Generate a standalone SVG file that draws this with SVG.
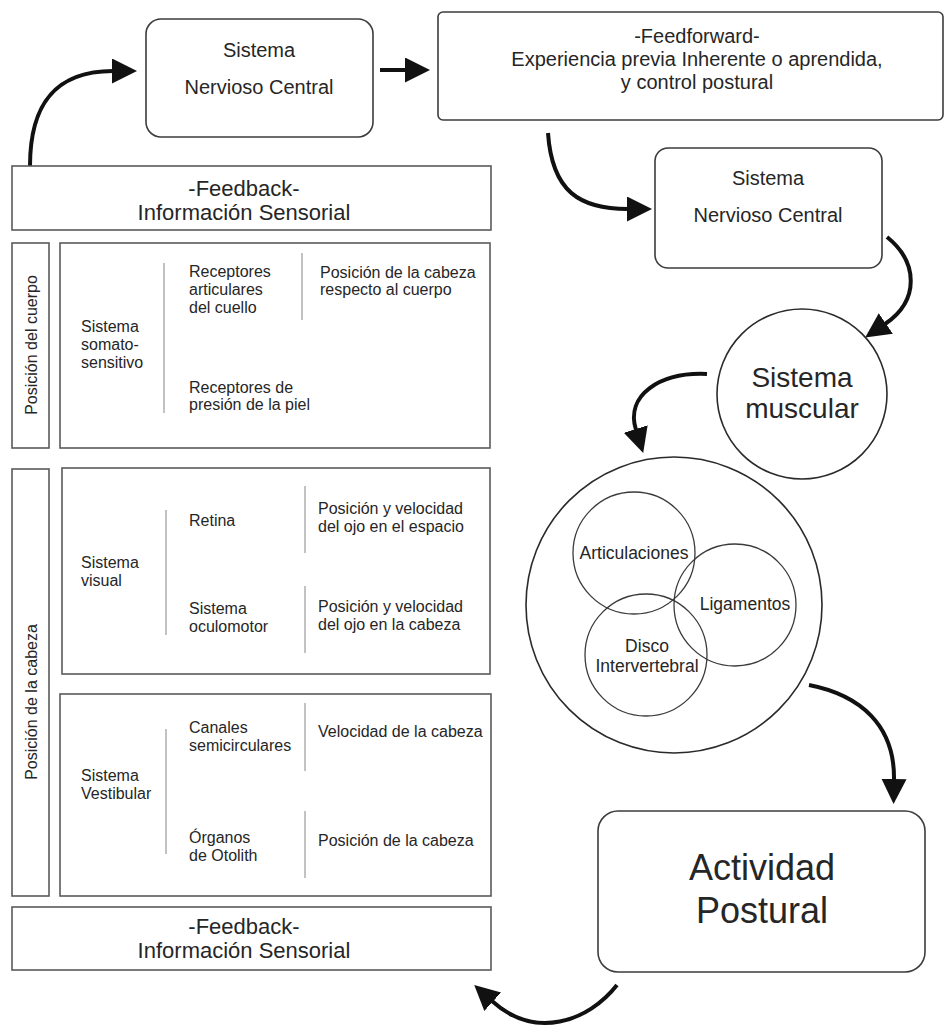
<svg xmlns="http://www.w3.org/2000/svg" width="945" height="1026" viewBox="0 0 945 1026">
  <style>
    text { font-family: "Liberation Sans", Arial, Helvetica, sans-serif; fill: #262626; }
    .box { fill: #fff; stroke: #3c3c3c; stroke-width: 1.6; }
    .panel { fill: #fff; stroke: #5a5a5a; stroke-width: 1.6; }
    .div { stroke: #a8a8a8; stroke-width: 1.4; }
    .ring { fill: none; stroke: #2a2a2a; stroke-width: 1.6; }
    .ring-in { fill: none; stroke: #3a3a3a; stroke-width: 1.3; }
    .arrow { fill: none; stroke: #111; stroke-width: 4; marker-end: url(#head); }
    .t16 { font-size: 16px; }
    .t20 { font-size: 20px; text-anchor: middle; }
    .t22 { font-size: 22px; text-anchor: middle; }
    .mid { text-anchor: middle; }
  </style>
  <defs>
    <marker id="head" markerUnits="userSpaceOnUse" markerWidth="26" markerHeight="26" refX="1" refY="12.5" orient="auto">
      <path d="M0,0 L25,12.5 L0,25 Z" fill="#111"/>
    </marker>
  </defs>

  <rect width="945" height="1026" fill="#fff"/>

  <!-- connectors -->
  <g id="connectors">
    <path class="arrow" d="M30,166 C30,108 52,71 113,71"/>
    <path class="arrow" d="M380,70 L406,70"/>
    <path class="arrow" d="M548,133 C552,192 580,209 628,209"/>
    <path class="arrow" d="M887,237 C918,262 920,300 885,324"/>
    <path class="arrow" d="M707,374 C660,372 625,395 636,430"/>
    <path class="arrow" d="M809,685 C860,695 895,725 894,780"/>
    <path class="arrow" d="M617,985 C588,1022 535,1040 492,1001"/>
  </g>

  <!-- central nervous system (input side) -->
  <g id="snc-1">
    <rect class="box" x="146" y="19" width="227" height="118" rx="15"/>
    <text class="t20" x="259" y="57">Sistema</text>
    <text class="t20" x="259" y="94">Nervioso Central</text>
  </g>

  <!-- feedforward -->
  <g id="feedforward">
    <rect class="box" x="438" y="12" width="505" height="108" rx="5"/>
    <text class="t20" x="697" y="43">-Feedforward-</text>
    <text class="t20" x="697" y="66">Experiencia previa Inherente o aprendida,</text>
    <text class="t20" x="697" y="89">y control postural</text>
  </g>

  <!-- feedback (top) -->
  <g id="feedback-top">
    <rect class="panel" x="12" y="166" width="479" height="64"/>
    <text class="t22" x="244" y="196">-Feedback-</text>
    <text class="t22" x="244" y="220">Información Sensorial</text>
  </g>

  <!-- central nervous system (output side) -->
  <g id="snc-2">
    <rect class="box" x="655" y="148" width="227" height="120" rx="13"/>
    <text class="t20" x="768" y="185">Sistema</text>
    <text class="t20" x="768" y="222">Nervioso Central</text>
  </g>

  <!-- body position: somatosensory -->
  <g id="posicion-cuerpo">
    <rect class="panel" x="12" y="243" width="37" height="205"/>
    <text class="t16 mid" transform="translate(37,345) rotate(-90)">Posición del cuerpo</text>
  </g>
  <g id="somatosensitivo">
    <rect class="panel" x="60" y="243" width="430" height="205"/>
    <line class="div" x1="164" y1="263" x2="164" y2="413"/>
    <line class="div" x1="302" y1="253" x2="302" y2="320"/>
    <text class="t16" x="81" y="332">Sistema</text>
    <text class="t16" x="81" y="350">somato-</text>
    <text class="t16" x="81" y="368">sensitivo</text>
    <text class="t16" x="189" y="277">Receptores</text>
    <text class="t16" x="189" y="295">articulares</text>
    <text class="t16" x="189" y="313">del cuello</text>
    <text class="t16" x="320" y="278">Posición de la cabeza</text>
    <text class="t16" x="320" y="295">respecto al cuerpo</text>
    <text class="t16" x="189" y="393">Receptores de</text>
    <text class="t16" x="189" y="410">presión de la piel</text>
  </g>

  <!-- head position -->
  <g id="posicion-cabeza">
    <rect class="panel" x="12" y="469" width="37" height="427"/>
    <text class="t16 mid" transform="translate(37,702) rotate(-90)">Posición de la cabeza</text>
  </g>
  <g id="visual">
    <rect class="panel" x="62" y="468" width="428" height="206"/>
    <line class="div" x1="166" y1="510" x2="166" y2="635"/>
    <line class="div" x1="305" y1="486" x2="305" y2="553"/>
    <line class="div" x1="305" y1="586" x2="305" y2="653"/>
    <text class="t16" x="81" y="568">Sistema</text>
    <text class="t16" x="81" y="586">visual</text>
    <text class="t16" x="189" y="526">Retina</text>
    <text class="t16" x="189" y="614">Sistema</text>
    <text class="t16" x="189" y="632">oculomotor</text>
    <text class="t16" x="318" y="514">Posición y velocidad</text>
    <text class="t16" x="318" y="532">del ojo en el espacio</text>
    <text class="t16" x="318" y="612">Posición y velocidad</text>
    <text class="t16" x="318" y="630">del ojo en la cabeza</text>
  </g>
  <g id="vestibular">
    <rect class="panel" x="60" y="694" width="431" height="202"/>
    <line class="div" x1="166" y1="729" x2="166" y2="854"/>
    <line class="div" x1="305" y1="703" x2="305" y2="771"/>
    <line class="div" x1="305" y1="811" x2="305" y2="878"/>
    <text class="t16" x="81" y="781">Sistema</text>
    <text class="t16" x="81" y="799">Vestibular</text>
    <text class="t16" x="189" y="733">Canales</text>
    <text class="t16" x="189" y="751">semicirculares</text>
    <text class="t16" x="318" y="737">Velocidad de la cabeza</text>
    <text class="t16" x="189" y="843">Órganos</text>
    <text class="t16" x="189" y="861">de Otolith</text>
    <text class="t16" x="318" y="846">Posición de la cabeza</text>
  </g>

  <!-- feedback (bottom) -->
  <g id="feedback-bottom">
    <rect class="panel" x="12" y="907" width="479" height="63"/>
    <text class="t22" x="244" y="934">-Feedback-</text>
    <text class="t22" x="244" y="958">Información Sensorial</text>
  </g>

  <!-- muscular system -->
  <g id="sistema-muscular">
    <circle class="ring" cx="802" cy="394" r="85" fill="#fff"/>
    <text class="mid" x="802" y="387" font-size="28">Sistema</text>
    <text class="mid" x="802" y="418" font-size="28">muscular</text>
  </g>

  <!-- passive structures -->
  <g id="estructuras">
    <circle class="ring" cx="674" cy="605" r="148"/>
    <circle class="ring-in" cx="634" cy="553" r="61"/>
    <circle class="ring-in" cx="735" cy="605" r="61"/>
    <circle class="ring-in" cx="646" cy="655" r="61"/>
    <text class="mid" x="634" y="559" font-size="17.5">Articulaciones</text>
    <text class="mid" x="745" y="610" font-size="17.5">Ligamentos</text>
    <text class="mid" x="647" y="652" font-size="17.5">Disco</text>
    <text class="mid" x="647" y="672" font-size="17.5">Intervertebral</text>
  </g>

  <!-- postural activity -->
  <g id="actividad-postural">
    <rect class="box" x="598" y="811" width="327" height="161" rx="20"/>
    <text class="mid" x="762" y="880" font-size="36">Actividad</text>
    <text class="mid" x="762" y="923" font-size="36">Postural</text>
  </g>
</svg>
